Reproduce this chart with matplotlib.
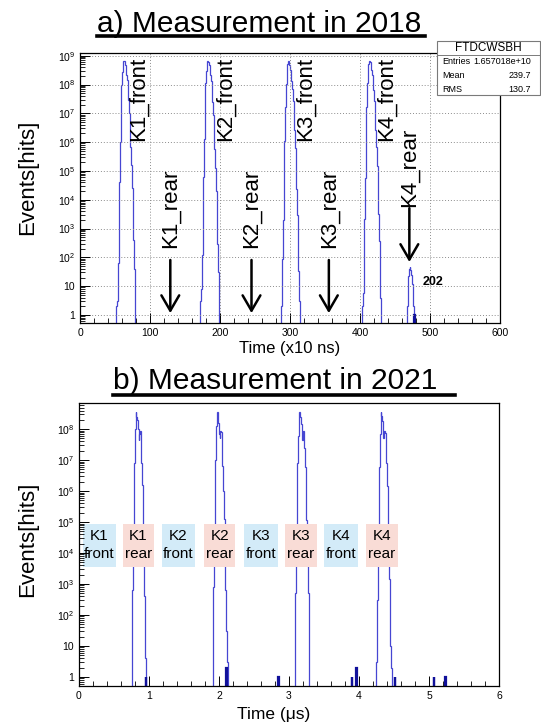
import numpy as np
import matplotlib
matplotlib.use("Agg")
import matplotlib.pyplot as plt
from matplotlib.patches import Rectangle
from matplotlib.lines import Line2D
from matplotlib.ticker import LogLocator, FuncFormatter, MultipleLocator, NullFormatter

plt.rcParams['font.family'] = ['Liberation Sans', 'DejaVu Sans']
plt.rcParams['mathtext.fontset'] = 'custom'
plt.rcParams['mathtext.rm'] = 'Liberation Sans'
plt.rcParams['mathtext.it'] = 'Liberation Sans:italic'
plt.rcParams['mathtext.bf'] = 'Liberation Sans:bold'

# ---- panel a: 2018, bins of 1 (x10 ns) ----
a_k1_start = 52
a_k1 = [2, 3, 63, 1600, 4e4, 1e6, 1.6e7, 1e8, 2.8e8, 5e8, 6.6e8, 6.3e8, 4.8e8, 3.2e8,
        2.2e8, 1.4e8, 7e7, 2.8e7, 1e7, 2.8e6, 7e5, 1.6e5, 2.5e4, 3200, 400, 40, 4]
a_k2_start = 172
a_k2 = [3, 8, 120, 2500, 6e4, 1.3e6, 1.8e7, 1.1e8, 3e8, 5.2e8, 6.5e8, 6e8, 4.6e8, 3.1e8,
        2.1e8, 1.3e8, 6.5e7, 2.5e7, 9e6, 2.5e6, 6e5, 1.3e5, 2e4, 2600, 300, 30, 3]
a_k3_start = 287
a_k3 = [2, 5, 90, 2000, 5e4, 1.1e6, 1.7e7, 1.05e8, 2.9e8, 5.1e8, 6.7e8, 6.2e8, 4.7e8, 3.2e8,
        2.2e8, 1.35e8, 6.8e7, 2.7e7, 9.5e6, 2.6e6, 6.5e5, 1.5e5, 2.3e4, 3000, 350, 35, 3]
a_k4_start = 403
a_k4 = [2, 6, 100, 2200, 5.5e4, 1.2e6, 1.7e7, 1.1e8, 3e8, 5e8, 6.6e8, 6.1e8, 4.7e8, 3.1e8,
        2.1e8, 1.35e8, 6.7e7, 2.6e7, 9.8e6, 2.7e6, 6.8e5, 1.5e5, 2.4e4, 3100, 380, 38, 4]
a_k4rear_start = 467
a_k4rear = [2, 8, 22, 40, 45, 36, 24, 12, 5, 2]
a_single_x = [477]
a_single_n = [1]

# ---- panel b: 2021, bins of 0.01 us ----
b_k1_start = 0.75
b_k1 = [5, 630, 1.6e4, 2.5e5, 8e6, 1e8, 3.6e8, 2.5e8, 2e8, 1e8, 4.5e7, 7e7, 9e7, 3.2e7,
        8e6, 1.6e6, 2e5, 1.6e4, 400, 4]
b_k2_start = 1.91
b_k2 = [6, 800, 2e4, 4e5, 1e7, 1.26e8, 3.5e8, 2.2e8, 1.6e8, 7e7, 5e7, 9e7, 8e7, 2.5e7,
        6.3e6, 1e6, 1.3e5, 1e4, 630, 30, 10, 3]
b_k3_start = 3.08
b_k3 = [4, 500, 1.5e4, 3e5, 8e6, 6e7, 2.2e8, 3.6e8, 2.4e8, 1.5e8, 6e7, 4.5e7, 8.5e7, 7e7,
        2.5e7, 6e6, 1e6, 1.2e5, 9000, 500, 20]
b_k4_start = 4.25
b_k4 = [3, 300, 1e4, 2.5e5, 6e6, 7e7, 3.5e8, 2.6e8, 1.8e8, 1.2e8, 5e7, 8.5e7, 7.5e7, 3e7,
        8e6, 1.5e6, 2e5, 2e4, 1500, 80, 10, 2]
b_single_x = [0.952, 2.105, 2.845, 3.90, 3.96, 4.515, 5.065, 5.23]
b_single_n = [1, 2, 1, 1, 2, 1, 1, 1]

a_front_labels = ['K1_front', 'K2_front', 'K3_front', 'K4_front']
a_rear_labels = ['K1_rear', 'K2_rear', 'K3_rear', 'K4_rear']
b_labels = ['K1\nfront', 'K1\nrear', 'K2\nfront', 'K2\nrear',
            'K3\nfront', 'K3\nrear', 'K4\nfront', 'K4\nrear']

LINE = '#4646d2'
DARK = '#10109a'

W, H = 541, 725
fig = plt.figure(figsize=(W / 100, H / 100), dpi=100)


def fpos(l, t, r, b):
    return [l / W, 1 - b / H, (r - l) / W, (b - t) / H]


def log_fmt(v, pos):
    e = int(round(np.log10(v)))
    if e == 0:
        return '1'
    if e == 1:
        return '10'
    return r'$10^{%d}$' % e


def style(ax):
    ax.set_yscale('log')
    ax.yaxis.set_major_locator(LogLocator(base=10, numticks=30))
    ax.yaxis.set_minor_locator(LogLocator(base=10, subs=np.arange(2, 10), numticks=30))
    ax.yaxis.set_major_formatter(FuncFormatter(log_fmt))
    ax.yaxis.set_minor_formatter(NullFormatter())
    ax.tick_params(which='both', direction='in', top=False, right=False, labelsize=7.5)
    ax.tick_params(which='major', length=7, width=0.7)
    ax.tick_params(which='minor', length=3.5, width=0.6)
    for s in ax.spines.values():
        s.set_linewidth(0.9)


def hist(ax, start, width, counts, **kw):
    edges = start + width * np.arange(len(counts) + 1)
    ax.stairs(counts, edges, baseline=1e-2, **kw)


# ---------------- panel a ----------------
ax1 = fig.add_axes(fpos(80, 53, 500, 323))
style(ax1)
for st, c in [(a_k1_start, a_k1), (a_k2_start, a_k2), (a_k3_start, a_k3),
              (a_k4_start, a_k4), (a_k4rear_start, a_k4rear)]:
    hist(ax1, st, 1, c, color=LINE, lw=0.9)
for x, n in zip(a_single_x, a_single_n):
    hist(ax1, x, 1, [n], color=DARK, lw=1.6)
ax1.set_xlim(0, 600)
ax1.set_ylim(0.527, 1.24e9)
ax1.xaxis.set_major_locator(MultipleLocator(100))
ax1.xaxis.set_minor_locator(MultipleLocator(20))
ax1.grid(True, which='major', ls=(0, (1, 2)), color='#8c8c8c', lw=0.7)

for lab, x in zip(a_front_labels, [83.6, 207, 322, 438]):
    ax1.text(x, 9e8, lab, rotation=90, ha='center', va='top', fontsize=16)
for lab, x, yb, y0, y1 in zip(a_rear_labels, [129, 245, 355.5, 470.5],
                              [210, 210, 210, 5600], [81, 81, 81, 5100],
                              [1.16, 1.16, 1.16, 69]):
    ax1.text(x, yb, lab, rotation=90, ha='center', va='bottom', fontsize=16)
    ax1.annotate('', xy=(x, y1), xytext=(x, y0),
                 arrowprops=dict(arrowstyle='->,head_length=0.55,head_width=0.32',
                                 lw=1.8, color='black', mutation_scale=20,
                                 shrinkA=0, shrinkB=0))
ax1.text(504, 14, '202', ha='center', va='center', fontsize=9, fontweight='bold')

# stats box
fig.patches.append(Rectangle((437 / W, 1 - 95 / H), 103 / W, 54 / H,
                             transform=fig.transFigure, facecolor='white',
                             edgecolor='#7a7a7a', lw=0.8, zorder=5))
fig.lines.append(Line2D([437 / W, 540 / W], [1 - 54.5 / H] * 2, transform=fig.transFigure,
                        color='#7a7a7a', lw=0.7, zorder=6))
fig.text(488.5 / W, 1 - 48 / H, 'FTDCWSBH', ha='center', va='center', fontsize=8.5, zorder=7)
for lab, val, yy in [('Entries', '1.657018e+10', 62), ('Mean', '239.7', 76), ('RMS', '130.7', 90)]:
    fig.text(442 / W, 1 - yy / H, lab, ha='left', va='center', fontsize=6.5, zorder=7)
    fig.text(531 / W, 1 - yy / H, val, ha='right', va='center', fontsize=6.5, zorder=7)

# ---------------- panel b ----------------
ax2 = fig.add_axes(fpos(79, 403, 499, 686))
style(ax2)
for st, c in [(b_k1_start, b_k1), (b_k2_start, b_k2), (b_k3_start, b_k3), (b_k4_start, b_k4)]:
    hist(ax2, st, 0.01, c, color=LINE, lw=0.9)
for x, n in zip(b_single_x, b_single_n):
    hist(ax2, x, 0.006, [n], color=DARK, lw=1.6)
ax2.set_xlim(0, 6)
ax2.set_ylim(0.51, 7e8)
ax2.xaxis.set_major_locator(MultipleLocator(1))
ax2.xaxis.set_minor_locator(MultipleLocator(0.2))

box_cx = [0.29, 0.85, 1.42, 2.01, 2.60, 3.17, 3.745, 4.33]
for i, (lab, cx) in enumerate(zip(b_labels, box_cx)):
    front = i % 2 == 0
    w = 0.48 if front else 0.45
    ax2.add_patch(Rectangle((cx - w / 2, 10 ** 3.56), w, 10 ** 4.94 - 10 ** 3.56,
                            facecolor='#d3ebf8' if front else '#f9dcd6',
                            edgecolor='none', zorder=1))
    ax2.text(cx, 10 ** 4.25, lab, ha='center', va='center', fontsize=11,
             linespacing=1.35, zorder=3)

# titles, labels
for txt, x0, yb, xu, yu in [('a) Measurement in 2018', 97, 32, 425, 36),
                            ('b) Measurement in 2021', 113, 389, 455, 395)]:
    fig.text(x0 / W, 1 - yb / H, txt, ha='left', va='baseline', fontsize=21.5)
    fig.lines.append(Line2D([x0 / W, xu / W], [1 - yu / H] * 2, transform=fig.transFigure,
                            color='black', lw=2.6))

fig.text(28 / W, 1 - 177 / H, 'Events[hits]', rotation=90, ha='center', va='center', fontsize=16)
fig.text(28 / W, 1 - 539 / H, 'Events[hits]', rotation=90, ha='center', va='center', fontsize=16)
fig.text(290 / W, 1 - 348 / H, 'Time (x10 ns)', ha='center', va='center', fontsize=12)
fig.text(274 / W, 1 - 714 / H, 'Time (μs)', ha='center', va='center', fontsize=12.5)

fig.savefig('out.png', dpi=100)
